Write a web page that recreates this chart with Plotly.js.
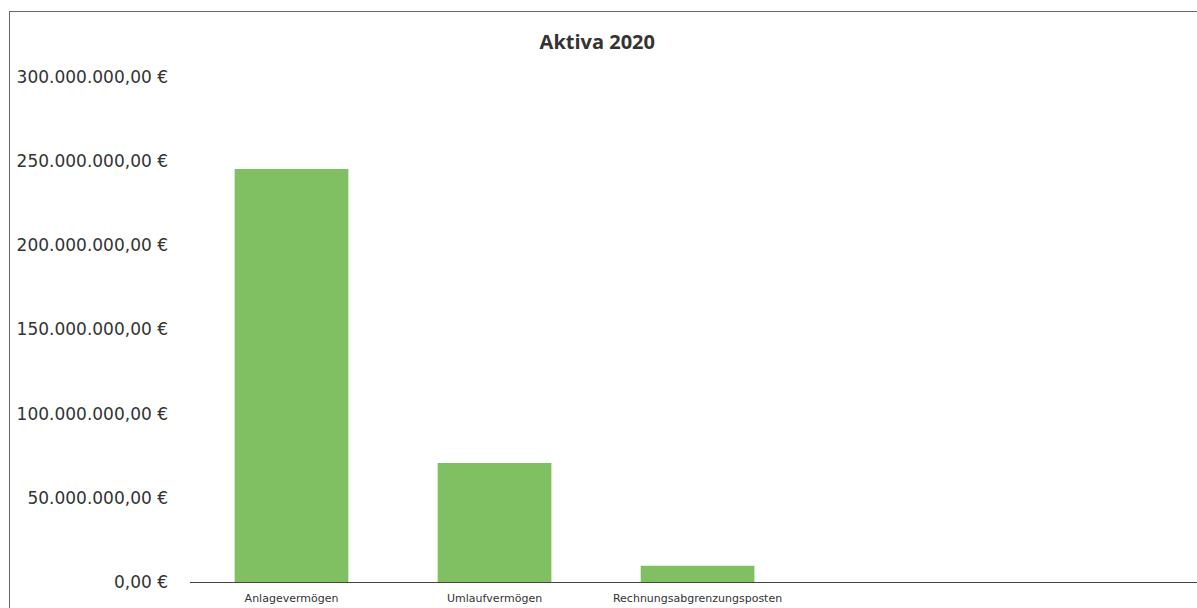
<!DOCTYPE html>
<html><head><meta charset="utf-8">
<script src="https://cdn.plot.ly/plotly-3.0.1.min.js"></script>
<style>
html,body{margin:0;padding:0;background:#fff;overflow:hidden}
#chart{position:absolute;left:0;top:0;width:1197px;height:608px}
#frame{position:absolute;left:9px;top:11px;width:1200px;height:620px;border-left:1.5px solid #666;border-top:1.5px solid #666;pointer-events:none}
</style></head>
<body>
<div id="chart"></div>
<div id="frame"></div>
<script>
const categories = ["Anlagevermögen", "Umlaufvermögen", "Rechnungsabgrenzungsposten", "", ""];
const values = [245300000, 70700000, 9700000, null, null];
const yTicks = [0, 50000000, 100000000, 150000000, 200000000, 250000000, 300000000];
const yTickLabels = ["0,00 €", "50.000.000,00 €", "100.000.000,00 €", "150.000.000,00 €", "200.000.000,00 €", "250.000.000,00 €", "300.000.000,00 €"];

const xPos = categories.map((c, i) => i);

Plotly.newPlot('chart', [{
  type: 'bar',
  x: xPos,
  y: values,
  marker: {color: '#80bf62'},
  hoverinfo: 'skip'
}], {
  width: 1197, height: 608,
  margin: {l: 190, r: 0, t: 77, b: 26, pad: 0},
  paper_bgcolor: '#fff', plot_bgcolor: '#fff',
  bargap: 0.44,
  showlegend: false,
  title: {text: '<b>Aktiva 2020</b>', x: 0.499, xanchor: 'center', y: 1 - 42/608, yanchor: 'middle',
          font: {family: 'Open Sans, sans-serif', size: 20, color: '#333'}},
  xaxis: {
    range: [-0.5, 4.46], tickmode: 'array', tickvals: xPos, ticktext: categories,
    showgrid: false, zeroline: false, showline: true, linecolor: '#444', linewidth: 1.2,
    ticks: '', ticklabelstandoff: 6,
    tickfont: {family: 'DejaVu Sans, sans-serif', size: 11, color: '#333'},
    fixedrange: true
  },
  yaxis: {
    range: [0, 300000000], tickmode: 'array', tickvals: yTicks, ticktext: yTickLabels,
    showgrid: false, zeroline: false, showline: false, ticks: '',
    ticklabelstandoff: 21,
    tickfont: {family: 'DejaVu Sans, sans-serif', size: 17, color: '#333'},
    fixedrange: true
  }
}, {displayModeBar: false, staticPlot: true});
</script>
</body></html>
